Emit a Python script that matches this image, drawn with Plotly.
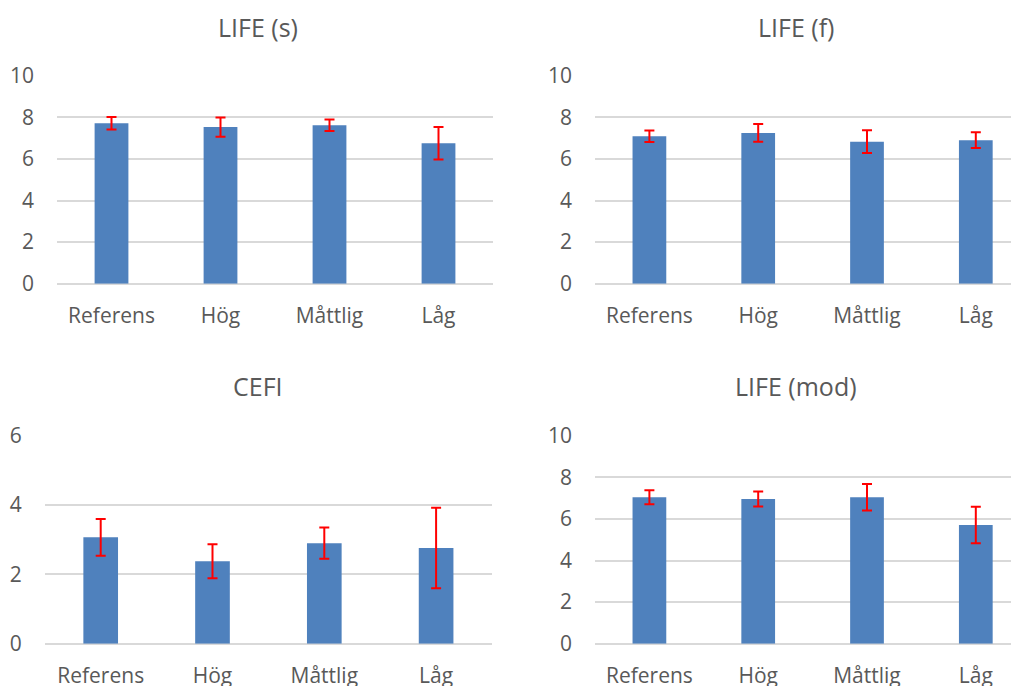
import plotly.graph_objects as go

# The page body has an 8px default margin, so the figure is drawn at (8, 8)
OFF = 8
W, H = 1019 - OFF, 686 - OFF

categories = ["Referens", "Hög", "Måttlig", "Låg"]

life_s = [7.71, 7.53, 7.62, 6.75]
life_s_err = [0.30, 0.46, 0.28, 0.78]

life_f = [7.09, 7.25, 6.83, 6.90]
life_f_err = [0.28, 0.43, 0.55, 0.38]

cefi = [3.07, 2.38, 2.90, 2.76]
cefi_err = [0.53, 0.49, 0.45, 1.16]

life_mod = [7.04, 6.96, 7.04, 5.71]
life_mod_err = [0.34, 0.36, 0.64, 0.88]

titles = ["LIFE (s)", "LIFE (f)", "CEFI", "LIFE (mod)"]
y_ranges = [[0, 10], [0, 10], [0, 6], [0, 10]]
y_dticks = [2, 2, 2, 2]

BAR = "#4F81BD"
GRID = "#D9D9D9"
TXT = "#595959"
FONT = "Open Sans"

# pixel geometry of each panel in screen coords: (x0, x1, y_top, y_bottom, xrange_end)
panels = [
    (57, 493, 75.7, 283.7, 3.5),
    (595, 1019, 75.7, 283.7, 3.397),
    (44.8, 492, 435.7, 643.7, 3.5),
    (595, 1019, 435.7, 643.7, 3.397),
]
title_pos = [(258, 27), (796, 27), (258, 386), (796, 386)]

series = [(life_s, life_s_err), (life_f, life_f_err), (cefi, cefi_err), (life_mod, life_mod_err)]


def px(x):
    return (x - OFF) / W


def py(y):
    return 1 - (y - OFF) / H


fig = go.Figure()
layout = {}
for i, ((vals, errs), (x0, x1, yt, yb, xend)) in enumerate(zip(series, panels)):
    sfx = "" if i == 0 else str(i + 1)
    fig.add_trace(go.Bar(
        x=categories, y=vals,
        xaxis="x" + sfx, yaxis="y" + sfx,
        marker=dict(color=BAR, line=dict(width=0)),
        width=0.31,
        error_y=dict(type="data", array=errs, visible=True, color="#FF0000", thickness=2, width=5),
        showlegend=False,
    ))
    layout["xaxis" + sfx] = dict(
        domain=[px(x0), min(1, px(x1))], anchor="y" + sfx,
        range=[-0.5, xend], type="category",
        showgrid=False, showline=False, zeroline=False, ticks="",
        tickfont=dict(family=FONT, size=21, color=TXT),
        ticklabelstandoff=17, automargin=False,
    )
    layout["yaxis" + sfx] = dict(
        domain=[py(yb), py(yt)], anchor="x" + sfx,
        range=y_ranges[i], dtick=y_dticks[i],
        showgrid=True, gridcolor=GRID, gridwidth=1.5,
        zeroline=True, zerolinecolor=GRID, zerolinewidth=1.5,
        showline=False, ticks="",
        tickfont=dict(family=FONT, size=21, color=TXT),
        ticklabelstandoff=22, automargin=False,
    )

annotations = []
for t, (cx, cy) in zip(titles, title_pos):
    annotations.append(dict(
        text=t, x=px(cx), y=py(cy), xref="paper", yref="paper",
        showarrow=False, xanchor="center", yanchor="middle",
        font=dict(family=FONT, size=25, color=TXT),
    ))

fig.update_layout(
    width=W, height=H,
    margin=dict(l=0, r=0, t=0, b=0),
    paper_bgcolor="white", plot_bgcolor="white",
    annotations=annotations,
    **layout,
)

fig.write_html("out.html")
